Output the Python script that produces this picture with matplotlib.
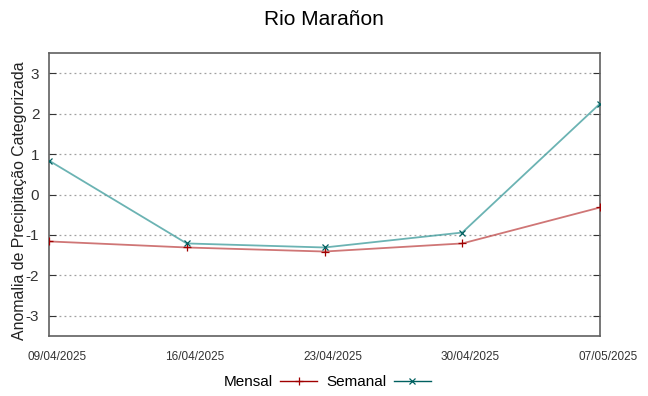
import matplotlib
matplotlib.use("Agg")
import matplotlib.pyplot as plt
import matplotlib.transforms as mtransforms
from matplotlib.lines import Line2D

plt.rcParams['font.family'] = ['Liberation Sans', 'DejaVu Sans']

datas = ["09/04/2025", "16/04/2025", "23/04/2025", "30/04/2025", "07/05/2025"]
mensal = [-1.16, -1.31, -1.41, -1.21, -0.32]
semanal = [0.84, -1.21, -1.31, -0.94, 2.25]
yticks = [-3, -2, -1, 0, 1, 2, 3]

fig = plt.figure(figsize=(6.48, 3.96), dpi=100)
ax = fig.add_axes([0.0756, 0.1515, 0.8504, 0.7145])

x = list(range(len(datas)))
ax.plot(x, mensal, color='#c04848', lw=1.3, alpha=0.75, zorder=3)
ax.plot(x, mensal, ls='none', marker='+', ms=6, mew=0.9, color='#a00000', zorder=4)
ax.plot(x, semanal, color='#3a9a9a', lw=1.3, alpha=0.75, zorder=3)
ax.plot(x, semanal, ls='none', marker='x', ms=4.5, mew=0.9, color='#006060', zorder=4)

ax.set_xlim(0, len(datas) - 1)
ax.set_ylim(-3.5, 3.5)
ax.set_yticks(yticks)
ax.set_yticklabels([str(v) for v in yticks], fontsize=11, color='#333333')
ax.set_xticks(x)
ax.set_xticklabels(datas, fontsize=8.5, color='#333333')
ax.tick_params(axis='y', direction='in', left=True, right=True, length=5, pad=7, color='#333333')
ax.tick_params(axis='x', direction='in', bottom=False, top=False, pad=11)
# labels sit a bit to the right of each date, as in gnuplot output
shift = mtransforms.ScaledTranslation(8 / 100, 0, fig.dpi_scale_trans)
for lbl in ax.get_xticklabels():
    lbl.set_transform(lbl.get_transform() + shift)
ax.yaxis.grid(True, ls=(0, (1.5, 2.5)), color='#a0a0a0', lw=0.9)
for s in ax.spines.values():
    s.set_color('#606060')
    s.set_linewidth(1.2)

ax.set_ylabel("Anomalia de Precipitação Categorizada", fontsize=11.4, color='#222222')
ax.yaxis.set_label_coords(-0.040, 0.477)
fig.suptitle("Rio Marañon", fontsize=15, y=0.975)

handles = [Line2D([], [], color='#a00000', marker='+', lw=1, ms=6, mew=0.9),
           Line2D([], [], color='#006060', marker='x', lw=1, ms=4.5, mew=0.9)]
fig.legend(handles, ["Mensal", "Semanal"], loc='center', bbox_to_anchor=(0.505, 0.035),
           ncol=2, frameon=False, fontsize=11, handlelength=2.4, markerfirst=False,
           columnspacing=0.6, handletextpad=0.5)

fig.savefig("out.png", dpi=100)
